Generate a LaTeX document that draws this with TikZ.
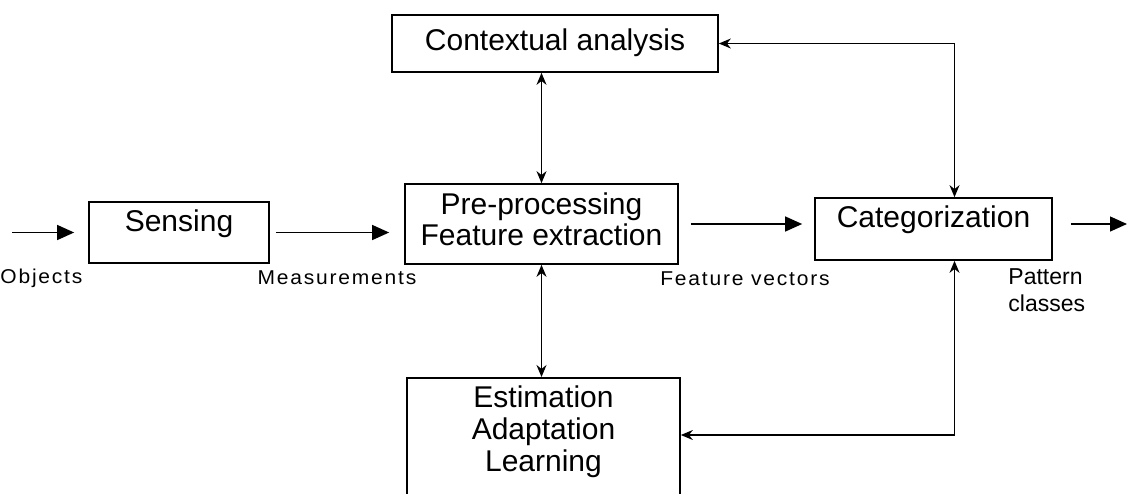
\documentclass[tikz,border=0pt]{standalone}
\usepackage{fontspec}
\setmainfont{Liberation Sans}
\newfontfamily\lblfont[FakeStretch=1.05,LetterSpace=9]{Liberation Sans}
\usetikzlibrary{arrows.meta}

\begin{document}
\begin{tikzpicture}[
    x=0.5pt, y=-0.5pt,
    box/.style={draw, line width=0.85pt, inner sep=0pt, align=center,
                font=\fontsize{15}{15.5}\selectfont},
    arr/.style={-{Triangle[length=8.5pt, width=7.5pt]}, line width=0.65pt},
    twoway/.style={{Stealth[length=6pt, width=5pt]}-{Stealth[length=6pt, width=5pt]},
                   line width=0.65pt},
    lbl/.style={font=\lblfont\fontsize{10}{12}\selectfont, inner sep=0pt}
]
\path[use as bounding box, clip] (0,0) rectangle (1128,493);

\node[box, minimum width=163pt, minimum height=28.5pt, text height=11pt, text depth=4.5pt] (ctx) at (555,43.5) {Contextual analysis};
\node[box, minimum width=90pt, minimum height=30.5pt, text height=11pt, text depth=12pt] (sense) at (179,232.5) {Sensing};
\node[box, minimum width=136.5pt, minimum height=40pt, text depth=4.5pt] (prep) at (541.5,224) {Pre-processing\\Feature extraction};
\node[box, minimum width=118.5pt, minimum height=31pt, text height=11pt, text depth=13pt] (cat) at (933.5,229) {Categorization};
\node[box, anchor=north, minimum width=136.5pt, inner ysep=4pt, text depth=40pt,
      font=\fontsize{15}{16}\selectfont] (est) at (543.5,377) {Estimation\\Adaptation\\Learning};

\node[lbl, anchor=west] (objlbl) at (0,278) {Objects};
\node[lbl] (measlbl) at (337,278) {Measurements};
\node[lbl] (featlbl) at (745,279) {Feature vectors};
\node[lbl, anchor=north west, align=left, font=\fontsize{11.5}{13.5}\selectfont] (patlbl) at (1008,268) {Pattern\\classes};

\coordinate (src) at (12,232.5);
\coordinate (sink) at (1127,224);
\coordinate (fb) at (955,435);

\draw[arr, shorten >=7pt] (src) -- (sense.west);
\draw[arr, shorten <=3pt, shorten >=7.5pt] (sense.east) -- (sense.east -| prep.west);
\draw[arr, shorten <=6pt, shorten >=6pt] (prep.east) -- (prep.east -| cat.west);
\draw[arr, shorten <=9pt] (cat.east |- sink) -- (sink);

\draw[twoway] (prep.north) -- (prep.north |- ctx.south);
\draw[twoway] (prep.south) -- (prep.south |- est.north);
\draw[twoway] (ctx.east) -| ([xshift=10.5pt]cat.north);
\draw[twoway] ([xshift=10.5pt]cat.south) |- (fb -| est.east);
\end{tikzpicture}
\end{document}
